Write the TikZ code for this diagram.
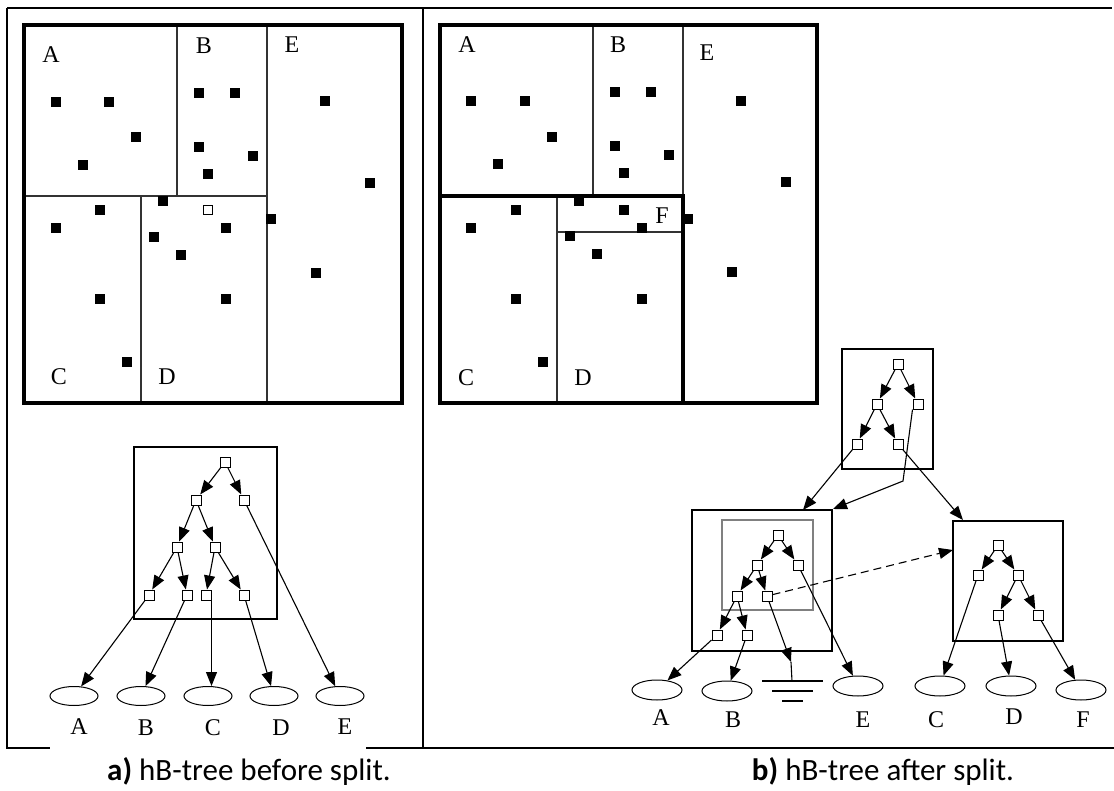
\documentclass[tikz,border=0pt]{standalone}
\usepackage{fontspec}
\setmainfont{Liberation Serif}
\newfontfamily\capfont{Carlito}
\usetikzlibrary{arrows.meta,shapes.geometric}

\begin{document}
\begin{tikzpicture}[x=1pt,y=-1pt,
  cell/.style={draw, fill=white, minimum size=10pt, inner sep=0pt, line width=1pt},
  leaf/.style={draw, ellipse, minimum width=48pt, minimum height=19pt, inner sep=0pt, line width=1pt},
  nodebox/.style={draw, line width=1.1pt, inner sep=0pt},
  lbl/.style={font=\fontsize{24}{28}\selectfont, inner sep=0pt},
  caption/.style={font=\capfont\fontsize{31}{36}\selectfont, inner sep=0pt},
  link/.style={line width=1.1pt, -{Triangle[length=14pt,width=11pt]}},
  frame/.style={line width=2.4pt},
  region/.style={line width=3.4pt},
  split/.style={line width=1.1pt, black!80},
]
\useasboundingbox (0,0) rectangle (1114,790);

% ---------- outer frame ----------
\draw[frame] (7,8) -- (1112,8);
\draw[frame] (7,8) -- (7,748) -- (50,748);
\draw[frame] (366,748) -- (1114,748);
\draw[frame] (423,8) -- (423,748);

% ---------- left map: regions A..E ----------
\draw[split] (24,196) -- (267,196);
\draw[split] (177,25) -- (177,196);
\draw[split] (267,25) -- (267,403);
\draw[split] (141,196) -- (141,403);
\draw[region] (24,25) rectangle (402,403);
\node[lbl] at (51,55) {A};
\node[lbl] at (204,46) {B};
\node[lbl] at (292,45) {E};
\node[lbl] at (59,377) {C};
\node[lbl] at (167,377) {D};
\foreach \px/\py in {56/102,109/102,136/137,83/165,
                     199/93,235/93,199/147,253/156,208/174,
                     325/101,370/183,
                     163/201,100/210,56/228,226/228,154/237,181/255,
                     271/219,316/273,100/299,226/299,127/362}
  \fill (\px-5,\py-5) rectangle ++(10,10);
\draw[line width=0.9pt, fill=white] (203.5,205.5) rectangle ++(9,9);

% ---------- right map: regions A..F ----------
\draw[split] (593,25) -- (593,196);
\draw[split] (683,25) -- (683,196);
\draw[split] (557,196) -- (557,403);
\draw[split] (557,232) -- (683,232);
\draw[region] (440,25) rectangle (817,403);
\draw[region] (440,196) -- (683,196) -- (683,403);
\node[lbl] at (467,45) {A};
\node[lbl] at (618,45) {B};
\node[lbl] at (707,53) {E};
\node[lbl] at (662,216) {F};
\node[lbl] at (466,378) {C};
\node[lbl] at (583,378) {D};
\foreach \px/\py in {471/101,525/101,552/137,498/164,
                     615/92,651/92,615/146,669/155,624/173,
                     741/101,786/182,
                     579/201,624/210,516/210,471/228,642/228,570/236,597/254,
                     688/219,732/272,516/299,642/299,543/362}
  \fill (\px-5,\py-5) rectangle ++(10,10);

% ---------- a) hB-tree before split ----------
\node[nodebox, minimum width=143pt, minimum height=172pt] (la-box) at (205.5,533) {};
\node[cell] (la-r) at (225,462) {};
\node[cell] (la-1) at (196,500) {};
\node[cell] (la-2) at (244,500) {};
\node[cell] (la-3) at (177,547) {};
\node[cell] (la-4) at (215,547) {};
\node[cell] (la-5) at (149,595) {};
\node[cell] (la-6) at (187,595) {};
\node[cell] (la-7) at (206,595) {};
\node[cell] (la-8) at (244,595) {};
\node[leaf] (la-A) at (74,696) {};
\node[leaf] (la-B) at (141,696) {};
\node[leaf] (la-C) at (208,696) {};
\node[leaf] (la-D) at (274,696) {};
\node[leaf] (la-E) at (340,696) {};
\node[lbl] (la-tA) at (79,727) {A};
\node[lbl] (la-tB) at (146,728) {B};
\node[lbl] (la-tC) at (213,728) {C};
\node[lbl] (la-tD) at (281,728) {D};
\node[lbl] (la-tE) at (345,727) {E};
\draw[link] (la-r) -- (la-1);
\draw[link] (la-r) -- (la-2);
\draw[link] (la-1) -- (la-3);
\draw[link] (la-1) -- (la-4);
\draw[link] (la-3) -- (la-5);
\draw[link] (la-3) -- (la-6);
\draw[link] (la-4) -- (la-7);
\draw[link] (la-4) -- (la-8);
\draw[link] (la-5) -- (la-A);
\draw[link] (la-6) -- (la-B);
\draw[link] (la-7.south east) -- (la-C.north -| la-7.south east);
\draw[link] (la-8) -- (la-D);
\draw[link] (la-2) -- (la-E);
\node[caption] (cap-a) at (249,771) {\textbf{a)} hB-tree before split.};

% ---------- b) hB-tree after split ----------
% root index node
\node[nodebox, minimum width=91pt, minimum height=120pt] (tb-box) at (887.5,409) {};
\node[cell] (tb-r) at (898,364) {};
\node[cell] (tb-1) at (877,404) {};
\node[cell] (tb-2) at (918,404) {};
\node[cell] (tb-3) at (857,444) {};
\node[cell] (tb-4) at (898,444) {};
% left index node with the old kd-tree inside
\node[nodebox, minimum width=140pt, minimum height=141pt] (lb-box) at (762,580.5) {};
\node[draw, gray, line width=1.1pt, inner sep=0pt, minimum width=91pt, minimum height=90pt] (lb-in) at (767.5,565) {};
\node[cell] (lb-r) at (778,535) {};
\node[cell] (lb-1) at (757,565) {};
\node[cell] (lb-2) at (798,565) {};
\node[cell] (lb-3) at (737,596) {};
\node[cell] (lb-4) at (767,596) {};
\node[cell] (lb-5) at (717,635) {};
\node[cell] (lb-6) at (747,635) {};
% right index node
\node[nodebox, minimum width=110pt, minimum height=120pt] (rb-box) at (1008,581) {};
\node[cell] (rb-r) at (998,545) {};
\node[cell] (rb-1) at (978,575) {};
\node[cell] (rb-2) at (1018,575) {};
\node[cell] (rb-3) at (998,615) {};
\node[cell] (rb-4) at (1038,615) {};
% data pages
\node[leaf, minimum width=50pt, minimum height=20pt] (rA) at (657,690) {};
\node[leaf, minimum width=50pt, minimum height=20pt] (rB) at (727,691) {};
\node[leaf, minimum width=50pt, minimum height=20pt] (rE) at (858,686) {};
\node[leaf, minimum width=50pt, minimum height=20pt] (rC) at (940,686) {};
\node[leaf, minimum width=50pt, minimum height=20pt] (rD) at (1011,686) {};
\node[leaf, minimum width=50pt, minimum height=20pt] (rF) at (1081,690) {};
\node[lbl] (r-tA) at (661,718) {A};
\node[lbl] (r-tB) at (733,720) {B};
\node[lbl] (r-tE) at (863,720) {E};
\node[lbl] (r-tC) at (936,720) {C};
\node[lbl] (r-tD) at (1014,717) {D};
\node[lbl] (r-tF) at (1083,720) {F};
% connector end points on the index nodes
\coordinate (in-l1) at (803,510);
\coordinate (bend) at (903,481);
\coordinate (in-l2) at (833,509);
\coordinate (in-r1) at (963,520);
\coordinate (in-r2) at (953,550);
\coordinate (g-tip) at (791,662);
\coordinate (g-top) at (792,681);
% root index node links
\draw[link] (tb-r) -- (tb-1);
\draw[link] (tb-r) -- (tb-2);
\draw[link] (tb-1) -- (tb-3);
\draw[link] (tb-1) -- (tb-4);
\draw[link] (tb-3) -- (in-l1);
\draw[link] (tb-2.south west) -- (bend) -- (in-l2);
\draw[link] (tb-4) -- (in-r1);
% left index node links
\draw[link] (lb-r) -- (lb-1);
\draw[link] (lb-r) -- (lb-2);
\draw[link] (lb-1) -- (lb-3);
\draw[link] (lb-1) -- (lb-4);
\draw[link] (lb-3) -- (lb-5);
\draw[link] (lb-3) -- (lb-6);
\draw[link] (lb-5) -- (rA);
\draw[link] (lb-6) -- (rB);
\draw[link] (lb-2) -- (rE);
\draw[link] (lb-4) -- (g-tip);
\draw[line width=1.1pt] (g-tip) -- (g-top);
\draw[link, dash pattern=on 8pt off 5pt] (lb-4) -- (in-r2);
% null pointer (ground)
\draw[line width=1.1pt] (762,681) -- (823,681);
\draw[line width=1.1pt] (772,691) -- (813,691);
\draw[line width=1.1pt] (782,701) -- (803,701);
% right index node links
\draw[link] (rb-r) -- (rb-1);
\draw[link] (rb-r) -- (rb-2);
\draw[link] (rb-2) -- (rb-3);
\draw[link] (rb-2) -- (rb-4);
\draw[link] (rb-1) -- (rC);
\draw[link] (rb-3) -- (rD);
\draw[link] (rb-4) -- (rF);
\node[caption] (cap-b) at (883,771) {\textbf{b)} hB-tree after split.};
\end{tikzpicture}
\end{document}
